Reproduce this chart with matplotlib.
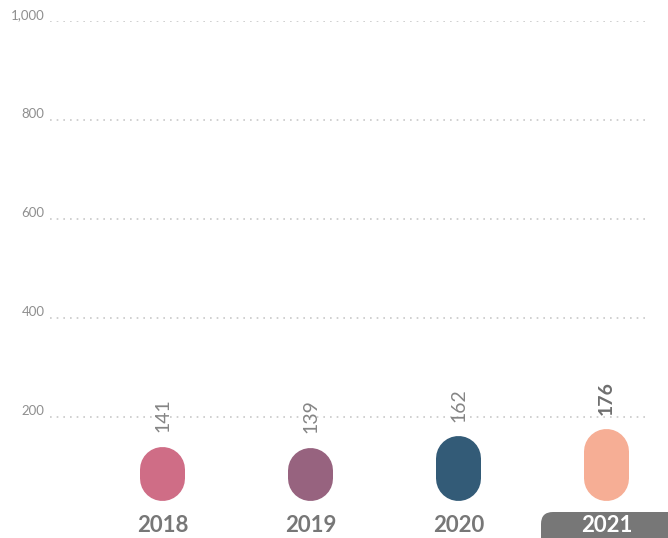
import matplotlib
matplotlib.use("Agg")
import matplotlib.pyplot as plt
from matplotlib.patches import FancyBboxPatch
from matplotlib.ticker import FuncFormatter
import matplotlib.transforms as mtransforms

# data
years = ["2018", "2019", "2020", "2021"]
values = [141, 139, 162, 176]
colors = ["#cf6d86", "#97637f", "#335b77", "#f6ae95"]
yticks = [200, 400, 600, 800, 1000]

plt.rcParams["font.family"] = ["Lato", "DejaVu Sans"]

fig = plt.figure(figsize=(6.68, 5.38), dpi=100)
ax = fig.add_axes([50 / 668, 22 / 538, 600 / 668, 495.3 / 538])

ax.set_xlim(-0.76, 3.294)
ax.set_ylim(0, 1000)

# gridlines (dotted, none at zero)
for t in yticks:
    ax.axhline(t, color="#c8c8c8", linewidth=1.2, linestyle=(0, (1, 3)), zorder=0)

ax.set_yticks(yticks)
ax.yaxis.set_major_formatter(FuncFormatter(lambda v, p: f"{int(v):,}"))
ax.tick_params(axis="y", length=0, pad=4, labelsize=9.5, labelcolor="#8f8f8f")
for lab in ax.get_yticklabels():
    lab.set_verticalalignment("bottom")
ax.set_xticks([])
for s in ax.spines.values():
    s.set_visible(False)

# pill bars: thick line with round caps
bar_px = 45
lw_pt = bar_px * 72 / 100
r_data = (bar_px / 2) / (495.3 / 1000)
base = 32
for i, (v, c) in enumerate(zip(values, colors)):
    ax.plot([i, i], [base + r_data, v - r_data], color=c, linewidth=lw_pt,
            solid_capstyle="round", zorder=2)
    last = i == len(values) - 1
    ax.annotate(str(v), (i, v), xytext=(0, 10), textcoords="offset points",
                rotation=90, ha="center", va="bottom", fontsize=14,
                color="#6f6f6f" if last else "#858585",
                fontweight="bold" if last else "normal")

# highlight box behind last year label
box = FancyBboxPatch((5.41, -0.2), 1.5, 0.46,
                     boxstyle="round,pad=0,rounding_size=0.12",
                     transform=fig.dpi_scale_trans, facecolor="#777777",
                     edgecolor="none", zorder=3, clip_on=False)
ax.add_artist(box)

trans = mtransforms.blended_transform_factory(ax.transData, ax.transAxes)
for i, y in enumerate(years):
    last = i == len(years) - 1
    ax.text(i, -9 / 495.3, y, transform=trans, ha="center", va="center",
            fontsize=16, fontweight="bold",
            color="white" if last else "#777777", clip_on=False, zorder=5)

fig.savefig("out.png", dpi=100)
